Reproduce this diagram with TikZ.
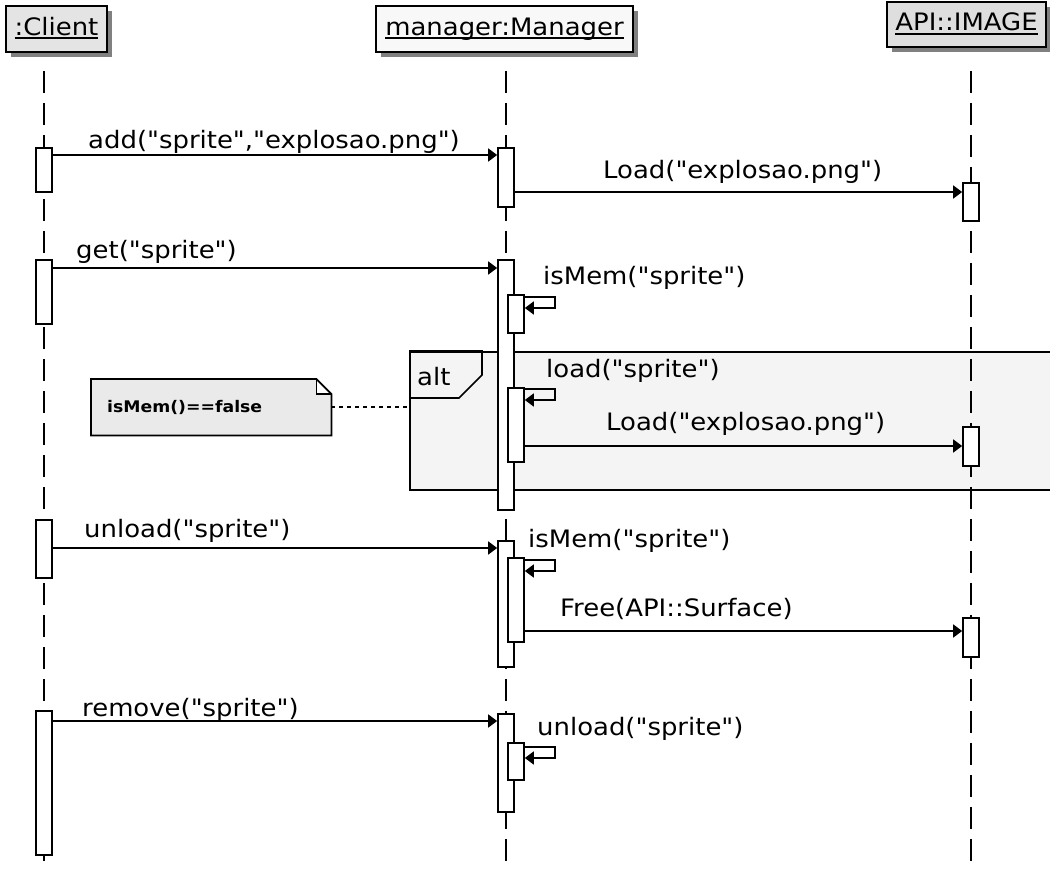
\documentclass[tikz,border=0pt]{standalone}
\usepackage{fontspec}
\setmainfont{DejaVu Sans}[FakeStretch=1.08, Ligatures=TeXOff]
\usetikzlibrary{arrows.meta,shadows}

\definecolor{hdrClient}{HTML}{E4E4E4}
\definecolor{hdrManager}{HTML}{F8F8F8}
\definecolor{hdrApi}{HTML}{DEDEDE}
\definecolor{frameFill}{HTML}{F4F4F4}
\definecolor{noteFill}{HTML}{EAEAEA}
\definecolor{shadowGray}{HTML}{808080}

% underlined object name with a heavier rule
\newcommand\objname[1]{\setbox0\hbox{#1}\rlap{\rule[-4pt]{\wd0}{1.8pt}}\box0}
% activation bar: name, x, top, bottom
\newcommand\actbar[4]{\node[actbox, minimum height={#4-#3}] (#1) at (#2,{(#3+#4)/2}) {};}

\begin{document}
\begin{tikzpicture}[x=1pt,y=-1pt,
  head/.style={draw=black, line width=2pt, inner sep=0pt, text height=18pt, text depth=6pt,
    font=\fontsize{24}{28}\selectfont,
    drop shadow={shadow xshift=5pt, shadow yshift=-5pt, fill=shadowGray, opacity=1}},
  life/.style={line width=1.6pt, dash pattern=on 22pt off 10pt},
  actbox/.style={draw=black, fill=white, line width=1.7pt, minimum width=16pt, inner sep=0pt},
  msg/.style={line width=1.7pt, -{Triangle[length=9pt,width=13pt]}},
  lbl/.style={anchor=base west, inner sep=0pt, font=\fontsize{24}{28}\selectfont},
  altframe/.style={draw=black, fill=frameFill, line width=1.7pt, inner sep=0pt},
  notebox/.style={fill=noteFill, inner xsep=16pt, inner ysep=0pt, text width=208pt,
    minimum height=56pt, font=\bfseries\fontsize{16}{18}\selectfont},
]
\useasboundingbox (0,0) rectangle (1050,871);

% combined fragment (drawn first, lifelines pass over it)
\node[altframe, anchor=north west, minimum width=660pt, minimum height=138pt] (alt) at (409,351) {};
\draw[line width=1.7pt] (alt.north west) -- ++(73,0) -- ++(0,24) -- ++(-23,23) -- ++(-50,0);
\node[lbl] (altlbl) at (417,385) {alt};

% note and its link to the fragment
\node[notebox, anchor=north west] (note) at (91,379) {isMem()==false};
\fill[white] ([xshift=-15pt]note.north east) rectangle ([yshift=-15pt]note.north east);
\draw[line width=1.7pt] (note.north west) -- ([xshift=-15pt]note.north east)
  -- ([yshift=-15pt]note.north east) -- (note.south east) -- (note.south west) -- cycle;
\draw[line width=1.7pt] ([xshift=-15pt]note.north east) |- ([yshift=-15pt]note.north east);
\draw[line width=1.3pt, dash pattern=on 4pt off 4pt] (note.east |- 0,407) -- (alt.west |- 0,407);

% object heads
\node[head, fill=hdrClient, minimum width=101pt, minimum height=46pt] (client) at (56.5,29) {\objname{:Client}};
\node[head, fill=hdrManager, minimum width=257pt, minimum height=46pt] (manager) at (504.5,29) {\objname{manager:Manager}};
\node[head, fill=hdrApi, minimum width=159pt, minimum height=45pt] (api) at (966.5,24.5) {\objname{API::IMAGE}};

% lifelines
\coordinate (lc) at (44,0);
\coordinate (lm) at (506,0);
\coordinate (la) at (971,0);
\draw[life] (lc |- client.south) ++(0,18) -- (lc |- 0,862);
\draw[life] (lm |- manager.south) ++(0,18) -- (lm |- 0,866);
\draw[life] (la |- api.south) ++(0,23) -- (la |- 0,866);

% activation bars
\actbar{c1}{44}{148}{192}
\actbar{c2}{44}{260}{324}
\actbar{c3}{44}{520}{578}
\actbar{c4}{44}{711}{855}
\actbar{m1}{506}{148}{207}
\actbar{m2}{506}{260}{510}
\actbar{m3}{506}{541}{667}
\actbar{m4}{506}{714}{812}
\actbar{n1}{516}{295}{333}
\actbar{n2}{516}{388}{462}
\actbar{n3}{516}{558}{642}
\actbar{n4}{516}{743}{780}
\actbar{a1}{971}{183}{221}
\actbar{a2}{971}{427}{466}
\actbar{a3}{971}{618}{657}

% messages
\draw[msg] (c1.east |- 0,155) -- (m1.west |- 0,155);
\node[lbl] at (88,148) {add("sprite","explosao.png")};
\draw[msg] (m1.east |- 0,192) -- (a1.west |- 0,192);
\node[lbl] at (603,178) {Load("explosao.png")};

\draw[msg] (c2.east |- 0,268) -- (m2.west |- 0,268);
\node[lbl] at (76,258) {get("sprite")};
\draw[msg] (n1.east |- 0,297) -- ++(30,0) -- ++(0,11) -- (n1.east |- 0,308);
\node[lbl] at (543,284) {isMem("sprite")};
\draw[msg] (n2.east |- 0,389) -- ++(30,0) -- ++(0,11) -- (n2.east |- 0,400);
\node[lbl] at (546,377) {load("sprite")};
\draw[msg] (n2.east |- 0,446) -- (a2.west |- 0,446);
\node[lbl] at (606,430) {Load("explosao.png")};

\draw[msg] (c3.east |- 0,548) -- (m3.west |- 0,548);
\node[lbl] at (84,537) {unload("sprite")};
\draw[msg] (n3.east |- 0,560) -- ++(30,0) -- ++(0,11) -- (n3.east |- 0,571);
\node[lbl] at (528,547) {isMem("sprite")};
\draw[msg] (n3.east |- 0,631) -- (a3.west |- 0,631);
\node[lbl] at (560,616) {Free(API::Surface)};

\draw[msg] (c4.east |- 0,721) -- (m4.west |- 0,721);
\node[lbl] at (82,716) {remove("sprite")};
\draw[msg] (n4.east |- 0,747) -- ++(30,0) -- ++(0,11) -- (n4.east |- 0,758);
\node[lbl] at (537,735) {unload("sprite")};
\end{tikzpicture}
\end{document}
